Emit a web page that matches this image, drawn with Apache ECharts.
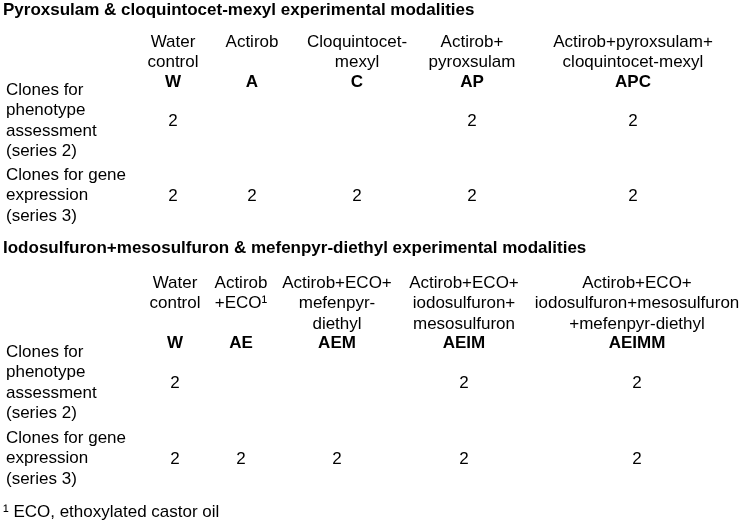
<!DOCTYPE html>
<html>
<head>
<meta charset="utf-8">
<script src="https://cdn.jsdelivr.net/npm/echarts@6/dist/echarts.min.js"></script>
<style>
html,body{margin:0;padding:0;background:#fff;}
#chart{width:743px;height:531px;}
</style>
</head>
<body>
<div id="chart"></div>
<script>
// ---- data ----
const section1Title = 'Pyroxsulam & cloquintocet-mexyl experimental modalities';
const section2Title = 'Iodosulfuron+mesosulfuron & mefenpyr-diethyl experimental modalities';
const footnote = '¹ ECO, ethoxylated castor oil';
const rowLabels = ['Clones for\nphenotype\nassessment\n(series 2)', 'Clones for gene\nexpression\n(series 3)'];

const s1Columns = ['Water\ncontrol', 'Actirob', 'Cloquintocet-\nmexyl', 'Actirob+\npyroxsulam', 'Actirob+pyroxsulam+\ncloquintocet-mexyl'];
const s1Codes = ['W', 'A', 'C', 'AP', 'APC'];
const s1Phenotype = [2, null, null, 2, 2];
const s1Gene = [2, 2, 2, 2, 2];

const s2Columns = ['Water\ncontrol', 'Actirob\n+ECO¹', 'Actirob+ECO+\nmefenpyr-\ndiethyl', 'Actirob+ECO+\niodosulfuron+\nmesosulfuron', 'Actirob+ECO+\niodosulfuron+mesosulfuron\n+mefenpyr-diethyl'];
const s2Codes = ['W', 'AE', 'AEM', 'AEIM', 'AEIMM'];
const s2Phenotype = [2, null, null, 2, 2];
const s2Gene = [2, 2, 2, 2, 2];

// ---- layout (axis units) ----
const s1ColX = [173, 252, 357, 472, 633];
const s2ColX = [175, 241, 337, 464, 637];
const layout1 = { title: 10, headTop: 32, code: 82, row1Top: 80, row2Top: 165, val1: 121, val2: 196 };
const layout2 = { title: 248, headTop: 273, code: 343, row1Top: 342, row2Top: 428, val1: 383, val2: 459 };
const footY = 512;
const LH = 20.5;
const FONT = '"Liberation Sans", Arial, Helvetica, sans-serif';

// items: [x, y, text, kind]
const items = [];
function addSection(title, cols, codes, pheno, gene, colX, L) {
  items.push([3, L.title, title, 'title']);
  cols.forEach((c, i) => items.push([colX[i], L.headTop, c, 'head']));
  codes.forEach((c, i) => items.push([colX[i], L.code, c, 'code']));
  items.push([6, L.row1Top, rowLabels[0], 'row']);
  items.push([6, L.row2Top, rowLabels[1], 'row']);
  pheno.forEach((v, i) => { if (v != null) items.push([colX[i], L.val1, String(v), 'val']); });
  gene.forEach((v, i) => { if (v != null) items.push([colX[i], L.val2, String(v), 'val']); });
}
addSection(section1Title, s1Columns, s1Codes, s1Phenotype, s1Gene, s1ColX, layout1);
addSection(section2Title, s2Columns, s2Codes, s2Phenotype, s2Gene, s2ColX, layout2);
items.push([3, footY, footnote, 'foot']);

const styles = {
  title: { align: 'left', verticalAlign: 'middle', fontWeight: 'bold' },
  head:  { align: 'center', verticalAlign: 'top', fontWeight: 'normal' },
  code:  { align: 'center', verticalAlign: 'middle', fontWeight: 'bold' },
  row:   { align: 'left', verticalAlign: 'top', fontWeight: 'normal' },
  val:   { align: 'center', verticalAlign: 'middle', fontWeight: 'normal' },
  foot:  { align: 'left', verticalAlign: 'middle', fontWeight: 'normal' }
};

const chart = echarts.init(document.getElementById('chart'), null, { renderer: 'canvas' });
chart.setOption({
  backgroundColor: '#ffffff',
  animation: false,
  grid: { left: 0, right: 0, top: 0, bottom: 0 },
  xAxis: { type: 'value', min: 0, max: 743, show: false },
  yAxis: { type: 'value', min: 0, max: 531, inverse: true, show: false },
  series: [{
    type: 'custom',
    coordinateSystem: 'cartesian2d',
    data: items,
    renderItem: function (params, api) {
      const d = items[params.dataIndex];
      const p = api.coord([d[0], d[1]]);
      const s = styles[d[3]];
      return {
        type: 'text',
        x: p[0], y: p[1],
        style: {
          text: d[2],
          fill: '#000000',
          fontFamily: FONT,
          fontSize: 17,
          fontWeight: s.fontWeight,
          lineHeight: LH,
          align: s.align,
          verticalAlign: s.verticalAlign
        }
      };
    }
  }]
});
</script>
</body>
</html>
